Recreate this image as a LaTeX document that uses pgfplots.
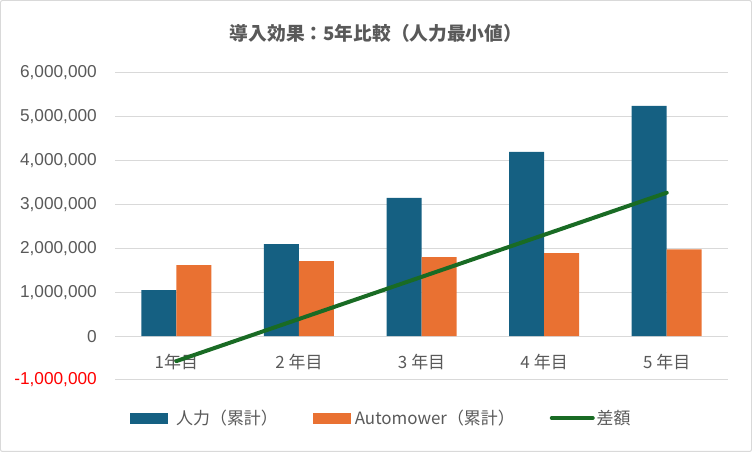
\documentclass[border=0pt]{standalone}
\usepackage{fontspec}
\setmainfont{Liberation Sans}
\newfontfamily\jp{Noto Sans CJK JP}
\usepackage{pgfplots}
\pgfplotsset{compat=1.18}
\definecolor{cblue}{HTML}{156082}
\definecolor{corange}{HTML}{E97132}
\definecolor{cgreen}{HTML}{196B24}
\definecolor{tgray}{HTML}{595959}
\definecolor{ggray}{HTML}{D9D9D9}
\begin{document}
\begin{tikzpicture}[x=1bp,y=1bp]
\draw[ggray, line width=1bp, rounded corners=2bp] (0.5,0.5) rectangle (751.5,451.5);
\node[font=\jp\bfseries\fontsize{18.8}{22}\selectfont, text=tgray] at (376,419) {導入効果：5年比較（人力最小値）};
\begin{axis}[
  at={(115bp,72bp)}, anchor=south west, scale only axis,
  width=613bp, height=307bp,
  xmin=-0.5, xmax=4.5, ymin=-1000000, ymax=6000000,
  scaled y ticks=false,
  axis line style={draw=none},
  major tick length=0pt,
  ymajorgrids, grid style={ggray, line width=1bp},
  ytick={-1000000,0,1000000,2000000,3000000,4000000,5000000,6000000},
  yticklabels={{\textcolor{red}{-1,000,000}},{0},{1,000,000},{2,000,000},{3,000,000},{4,000,000},{5,000,000},{6,000,000}},
  yticklabel style={anchor=east, inner sep=0pt, xshift=-18bp, text=tgray, font=\fontsize{17.3}{20}\selectfont},
  xtick={0,1,2,3,4},
  xticklabels={1年目,2\hspace{4bp}年目,3\hspace{4bp}年目,4\hspace{4bp}年目,5\hspace{4bp}年目},
  xticklabel style={anchor=center, yshift=18bp, text=tgray, font=\jp\fontsize{17}{20}\selectfont},
  ybar=0pt, bar width=35bp,
  clip=false,
  legend columns=3,
  legend cell align=left,
  legend style={draw=none, fill=none, at={(0.0196,-0.1238)}, anchor=west,
    font=\jp\fontsize{17}{20}\selectfont, text=tgray,
    /tikz/every even column/.append style={column sep=33bp}},
]
\addplot[fill=cblue, draw=none, legend image code/.code={\fill[cblue] (0bp,-5.5bp) rectangle (38bp,5.5bp); \path (44bp,0bp);}]
  coordinates {(0,1050000) (1,2100000) (2,3150000) (3,4200000) (4,5250000)};
\addlegendentry{人力（累計）}
\addplot[fill=corange, draw=none, legend image code/.code={\fill[corange] (0bp,-5.5bp) rectangle (38bp,5.5bp); \path (40bp,0bp);}]
  coordinates {(0,1620000) (1,1710000) (2,1800000) (3,1890000) (4,1980000)};
\addlegendentry{Automower（累計）}
\addplot[sharp plot, cgreen, line width=4bp, line cap=round, mark=none,
  legend image code/.code={\draw[cgreen, line width=4bp, line cap=round] (0bp,0bp) -- (41bp,0bp);}]
  coordinates {(0,-570000) (1,390000) (2,1350000) (3,2310000) (4,3270000)};
\addlegendentry{差額}
\end{axis}
\end{tikzpicture}
\end{document}
